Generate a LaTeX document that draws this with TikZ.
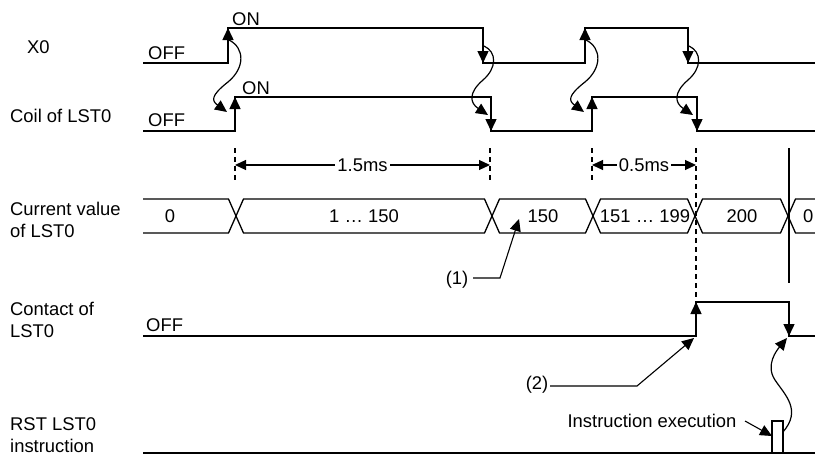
\documentclass[tikz,border=0pt]{standalone}
\usepackage{fontspec}
\setmainfont{Liberation Sans}
\usetikzlibrary{arrows.meta}
\begin{document}
\begin{tikzpicture}[x=1pt,y=-1pt,
  wave/.style={line width=1.5pt, line join=miter},
  tip/.style={line width=1.5pt, -{Triangle[length=12pt,width=11pt]}},
  curvy/.style={line width=1.2pt, -{Triangle[length=12pt,width=11pt]}},
  bus/.style={line width=1.3pt},
  dsh/.style={line width=1.1pt, dash pattern=on 5pt off 4pt},
  dim/.style={line width=1.1pt, {Triangle[length=11pt,width=10pt]}-{Triangle[length=11pt,width=10pt]}},
  lead/.style={line width=1.1pt, -{Triangle[length=12pt,width=11pt]}},
  lbl/.style={inner sep=0pt, anchor=base west, font=\fontsize{18.4}{22}\selectfont},
  txt/.style={inner sep=0pt, anchor=base, font=\fontsize{18.4}{22}\selectfont},
]
\useasboundingbox (0,0) rectangle (815,455);

% row labels
\node[lbl] (lX0) at (27,53) {X0};
\node[lbl] (lCoil) at (10,122) {Coil of LST0};
\node[lbl] (lCur1) at (10,215) {Current value};
\node[lbl] (lCur2) at (10,237) {of LST0};
\node[lbl] (lCon1) at (10,315) {Contact of};
\node[lbl] (lCon2) at (10,337) {LST0};
\node[lbl] (lRst1) at (10,430) {RST LST0};
\node[lbl] (lRst2) at (10,452) {instruction};

% X0
\draw[wave] (143,63) -- (228,63) -- (228,28) -- (483,28) -- (483,63) -- (585,63) -- (585,28) -- (688,28) -- (688,63) -- (815,63);
\node[lbl] (x0off) at (148,59) {OFF};
\node[lbl] (x0on) at (232,26) {ON};
\draw[tip] (228,48) -- (228,28);
\draw[tip] (483,43) -- (483,63);
\draw[tip] (585,48) -- (585,28);
\draw[tip] (688,43) -- (688,63);

% Coil
\draw[wave] (143,131) -- (235,131) -- (235,97) -- (491,97) -- (491,131) -- (592,131) -- (592,97) -- (697,97) -- (697,131) -- (815,131);
\node[lbl] (coff) at (148,126) {OFF};
\node[lbl] (con) at (242,94) {ON};
\draw[tip] (235,117) -- (235,97);
\draw[tip] (491,111) -- (491,131);
\draw[tip] (592,117) -- (592,97);
\draw[tip] (697,111) -- (697,131);

% causal curves X0 -> coil
\draw[curvy] (229,40) .. controls (245,48) and (245,68) .. (228,82) .. controls (210,96) and (212,101) .. (227,112);
\draw[curvy] (484,46) .. controls (497,52) and (497,68) .. (483,80) .. controls (468,93) and (470,103) .. (488,115);
\draw[curvy] (586,40) .. controls (602,48) and (602,68) .. (585,82) .. controls (567,96) and (569,101) .. (584,112);
\draw[curvy] (689,46) .. controls (702,52) and (702,68) .. (688,80) .. controls (673,93) and (675,103) .. (693,115);

% dashed guides and timing dimensions
\coordinate (d1t) at (235,148); \coordinate (d1b) at (235,182);
\coordinate (d2t) at (490,148); \coordinate (d2b) at (490,182);
\coordinate (d3t) at (592,148); \coordinate (d3b) at (592,182);
\coordinate (d4t) at (696,148); \coordinate (d4b) at (696,300);
\draw[dsh] (d1t) -- (d1b);
\draw[dsh] (d2t) -- (d2b);
\draw[dsh] (d3t) -- (d3b);
\draw[dsh] (d4t) -- (d4b);
\draw[dim] (235,165) -- (490,165) node[midway, fill=white, inner sep=2pt, font=\fontsize{18.4}{22}\selectfont] (t15) {1.5ms};
\draw[dim] (592,165) -- (696,165) node[midway, fill=white, inner sep=2pt, font=\fontsize{18.4}{22}\selectfont] (t05) {0.5ms};

% solid vertical guide
\coordinate (vt) at (789,148); \coordinate (vb) at (789,283);
\draw[line width=1.1pt] (vt) -- (vb);

% current value bus
\draw[bus] (143,199) -- (228.5,199) -- (236,216) -- (228.5,233) -- (143,233);
\draw[bus] (236,216) -- (243.5,199) -- (484.5,199) -- (492,216) -- (484.5,233) -- (243.5,233) -- cycle;
\draw[bus] (492,216) -- (499.5,199) -- (585.5,199) -- (593,216) -- (585.5,233) -- (499.5,233) -- cycle;
\draw[bus] (593,216) -- (600.5,199) -- (687.5,199) -- (695,216) -- (687.5,233) -- (600.5,233) -- cycle;
\draw[bus] (695,216) -- (702.5,199) -- (780.5,199) -- (788,216) -- (780.5,233) -- (702.5,233) -- cycle;
\draw[bus] (815,199) -- (795.5,199) -- (788,216) -- (795.5,233) -- (815,233);
\node[txt] (v0) at (170,222) {0};
\node[txt] (v1) at (364,222) {1 … 150};
\node[txt] (v2) at (543,222) {150};
\node[txt] (v3) at (645,222) {151 … 199};
\node[txt] (v4) at (742,222) {200};
\node[txt, anchor=base west] (v5) at (803,222) {0};

% (1)
\node[txt] (n1) at (457,284) {(1)};
\coordinate (n1a) at (500,278);
\coordinate (n1b) at (519,219);
\draw[lead] (473,278) -- (n1a) -- (n1b);

% contact
\draw[wave] (143,336) -- (696,336) -- (696,302) -- (789,302) -- (789,336) -- (815,336);
\node[lbl] (ctoff) at (146,331) {OFF};
\draw[tip] (696,320) -- (696,302);
\draw[tip] (789,318) -- (789,336);

% (2)
\node[txt] (n2) at (537,389) {(2)};
\coordinate (n2a) at (637,386);
\coordinate (n2b) at (694,338);
\draw[lead] (550,386) -- (n2a) -- (n2b);

% RST instruction
\draw[wave] (143,453) -- (815,453);
\draw[wave] (772,453) -- (772,421) -- (783,421) -- (783,453);
\node[txt] (ie) at (652,427) {Instruction execution};
\draw[lead] (745,421) -- (772,436);
\draw[curvy] (783,432) .. controls (802,410) and (785,395) .. (775,380) .. controls (765,365) and (777,350) .. (787,338);
\end{tikzpicture}
\end{document}
